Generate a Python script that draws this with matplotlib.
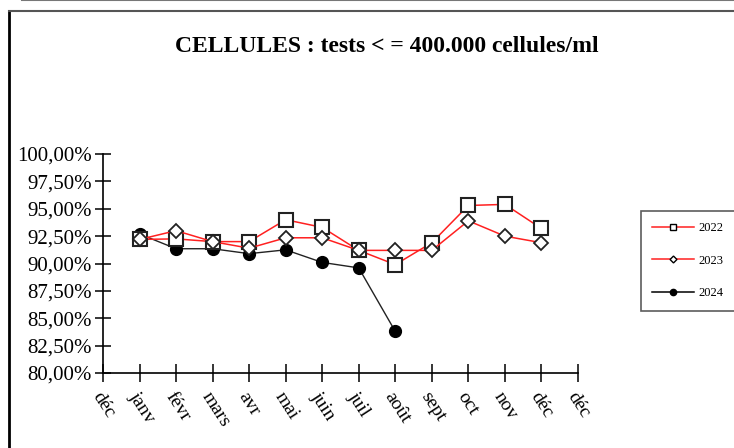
import matplotlib.pyplot as plt
import matplotlib.transforms as mtransforms
from matplotlib.lines import Line2D
from matplotlib.ticker import FuncFormatter

months = ['déc', 'janv', 'févr', 'mars', 'avr', 'mai', 'juin', 'juil',
          'août', 'sept', 'oct', 'nov', 'déc', 'déc']

vals_2022 = [92.2, 92.25, 92.0, 92.0, 94.0, 93.3, 91.2, 89.9, 91.9, 95.3, 95.4, 93.2]
vals_2023 = [92.2, 93.0, 92.0, 91.4, 92.35, 92.35, 91.2, 91.2, 91.2, 93.9, 92.5, 91.9]
vals_2024 = [92.7, 91.35, 91.35, 90.9, 91.25, 90.1, 89.6, 83.8]

plt.rcParams['font.family'] = ['Liberation Serif', 'DejaVu Serif']

fig = plt.figure(figsize=(7.34, 4.48), dpi=100)
ax = fig.add_axes([0.1403, 0.1674, 0.6471, 0.4888])

x22 = list(range(1, len(vals_2022) + 1))
x24 = list(range(1, len(vals_2024) + 1))

ax.plot(x24, vals_2024, '-o', color='#222222', lw=1, ms=8.5,
        mfc='black', mec='black', label='2024', zorder=3)
ax.plot(x22, vals_2022, '-s', color='#ff2020', lw=1.1, ms=10,
        mfc='white', mec='#222222', mew=1.5, label='2022', zorder=4)
ax.plot(x22, vals_2023, '-D', color='#ff2020', lw=1.1, ms=7,
        mfc='white', mec='#222222', mew=1.3, label='2023', zorder=5)

ax.set_xlim(0, 13)
ax.set_ylim(80, 100)
ax.set_xticks(range(14))
ax.set_xticklabels(months, rotation=-57, ha='left', va='top',
                   rotation_mode='anchor', fontsize=14)
shift = mtransforms.ScaledTranslation(5 / 100, 0, fig.dpi_scale_trans)
for lab in ax.get_xticklabels():
    lab.set_transform(lab.get_transform() + shift)
ax.set_yticks([80 + 2.5 * i for i in range(9)])
ax.yaxis.set_major_formatter(FuncFormatter(lambda v, p: f'{v:.2f}%'.replace('.', ',')))
ax.tick_params(axis='y', labelsize=15, direction='inout', length=12, width=1.1, pad=2)
ax.tick_params(axis='x', direction='inout', length=13, width=1.1, pad=5)
ax.spines['top'].set_visible(False)
ax.spines['right'].set_visible(False)
ax.spines['left'].set_linewidth(1.2)
ax.spines['bottom'].set_linewidth(1.2)

fig.text(0.527, 0.897, 'CELLULES : tests < = 400.000 cellules/ml',
         ha='center', va='center', fontsize=17, fontweight='bold')

handles = [
    Line2D([], [], color='#ff2020', lw=1.1, marker='s', ms=5, mfc='white', mec='black'),
    Line2D([], [], color='#ff2020', lw=1.1, marker='D', ms=3.5, mfc='white', mec='black'),
    Line2D([], [], color='black', lw=1.1, marker='o', ms=4.5, mfc='black', mec='black'),
]
leg = fig.legend(handles, ['2022', '2023', '2024'], loc='upper left',
                 bbox_to_anchor=(641 / 734, 1 - 211 / 448), fontsize=9,
                 frameon=True, fancybox=False, edgecolor='#333333',
                 labelspacing=1.65, handlelength=3.3, handletextpad=0.4,
                 borderpad=0.9, borderaxespad=0)
leg.get_frame().set_linewidth(1.2)

# outer chart border
fig.add_artist(Line2D([8.5 / 734, 8.5 / 734], [1 - 11 / 448, 0], color='black', lw=2))
fig.add_artist(Line2D([8.5 / 734, 1], [1 - 11 / 448, 1 - 11 / 448], color='#555555', lw=1.5))
fig.add_artist(Line2D([22 / 734, 1], [1 - 0.5 / 448, 1 - 0.5 / 448], color='#777777', lw=1.5))

fig.savefig('out.png', dpi=100)
